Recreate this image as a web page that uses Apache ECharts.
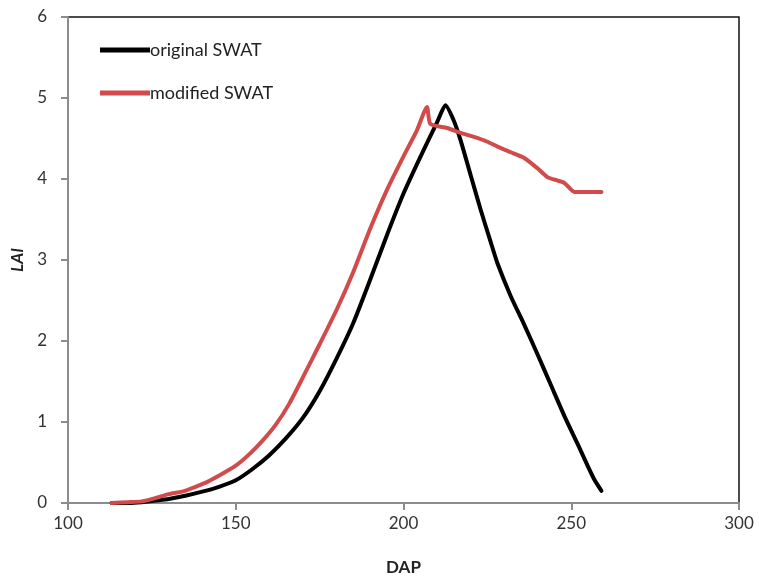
<!DOCTYPE html>
<html>
<head>
<meta charset="utf-8">
<script src="https://cdn.jsdelivr.net/npm/echarts@6/dist/echarts.min.js"></script>
<style>html,body{margin:0;padding:0;background:#fff}#c{width:759px;height:578px}</style>
</head>
<body>
<div id="c"></div>
<script>
// DAP (days after planting) and LAI values
var origDAP = [113,118,122,126,130,135,140,145,150,155,160,165,170,175,180,185,190,195,200,205,210,212.5,215,217,220,223,226,228,232,236,240,244,248,252,255,257,259];
var origLAI = [0,0,0.01,0.03,0.05,0.09,0.14,0.2,0.28,0.42,0.59,0.8,1.05,1.38,1.78,2.22,2.75,3.3,3.82,4.27,4.7,4.91,4.72,4.48,4.05,3.62,3.22,2.96,2.55,2.2,1.83,1.45,1.07,0.72,0.45,0.28,0.15];
var modDAP = [113,118,122,126,130,134,138,142,146,150,154,158,162,166,170,175,180,185,190,195,200,204,207,208,213,217,221,225,228,232,236,240,243,246,248,251,259];
var modLAI = [0,0.01,0.02,0.06,0.11,0.14,0.2,0.27,0.36,0.46,0.6,0.77,0.97,1.23,1.55,1.96,2.38,2.85,3.38,3.86,4.28,4.6,4.89,4.68,4.63,4.57,4.52,4.46,4.4,4.33,4.26,4.13,4.02,3.98,3.95,3.84,3.84];
var seriesNames = ['original SWAT','modified SWAT'];
var xTicks = {min:100,max:300,interval:50};
var yTicks = {min:0,max:6,interval:1};

function pairs(xs, ys){ return xs.map(function(x,i){return [x, ys[i]];}); }

var FONT = 'Lato, "Open Sans", sans-serif';
var chart = echarts.init(document.getElementById('c'), null, {renderer:'canvas'});
chart.setOption({
  backgroundColor:'#fff',
  animation:false,
  grid:{left:68, right:20, top:17, bottom:75, containLabel:false, outerBoundsMode:'none',
        show:true, borderColor:'#111', borderWidth:1.5, backgroundColor:'transparent'},
  legend:{
    orient:'vertical', left:95, top:36, itemGap:25,
    icon:'rect', itemWidth:50, itemHeight:5,
    textStyle:{fontFamily:FONT, fontSize:18, color:'#222', padding:[0,0,0,-5]},
    data:seriesNames
  },
  xAxis:{
    type:'value', min:xTicks.min, max:xTicks.max, interval:xTicks.interval,
    name:'DAP', nameLocation:'middle', nameGap:56,
    nameTextStyle:{fontFamily:FONT, fontSize:17, fontWeight:'bold', color:'#222'},
    axisLine:{show:true, onZero:false, lineStyle:{color:'#8c8c8c', width:2}},
    axisTick:{show:true, length:7, lineStyle:{color:'#8c8c8c', width:2}},
    axisLabel:{fontFamily:FONT, fontSize:17, color:'#333', margin:12},
    splitLine:{show:false}
  },
  yAxis:{
    type:'value', min:yTicks.min, max:yTicks.max, interval:yTicks.interval,
    name:'LAI', nameLocation:'middle', nameGap:37, nameRotate:90,
    nameTextStyle:{fontFamily:FONT, fontSize:17, fontWeight:'bold', fontStyle:'italic', color:'#222'},
    axisLine:{show:true, onZero:false, lineStyle:{color:'#8c8c8c', width:2}},
    axisTick:{show:true, length:7, lineStyle:{color:'#8c8c8c', width:2}},
    axisLabel:{fontFamily:FONT, fontSize:17, color:'#333', margin:21},
    splitLine:{show:false}
  },
  series:[{
    name:seriesNames[0], type:'line', data:pairs(origDAP, origLAI),
    showSymbol:false, smooth:0.2, color:'#000',
    lineStyle:{color:'#000', width:4, cap:'round', join:'round'}, z:2
  },{
    name:seriesNames[1], type:'line', data:pairs(modDAP, modLAI),
    showSymbol:false, smooth:0.2, color:'#d24b4b',
    lineStyle:{color:'#d24b4b', width:4, cap:'round', join:'round'}, z:3
  }]
});
</script>
</body>
</html>
